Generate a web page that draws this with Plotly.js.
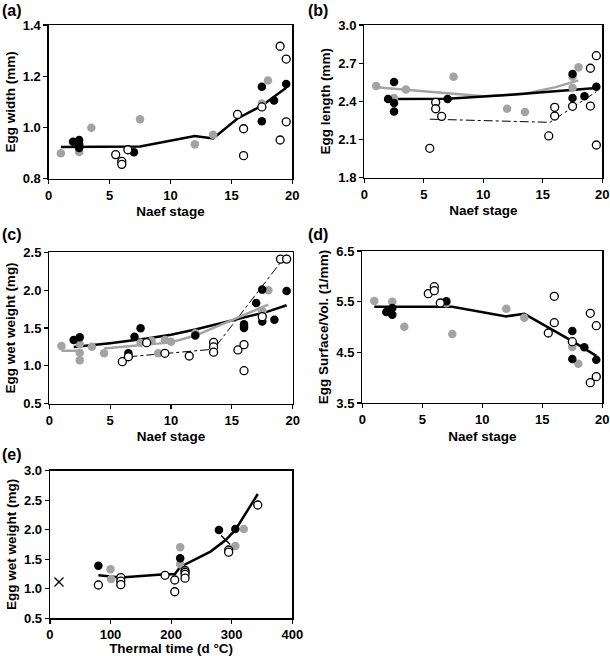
<!DOCTYPE html>
<html>
<head>
<meta charset="utf-8">
<script src="https://cdn.plot.ly/plotly-3.0.1.min.js"></script>
<style>html,body{margin:0;padding:0;background:#fff}#chart{width:610px;height:656px}</style>
</head>
<body>
<div id="chart"></div>
<script>
// ---------- Panel (a): Egg width ----------
var aBlackX = [2, 2.5, 2.5, 2.5, 7, 17.5, 17.5, 18.5, 19.5];
var aBlackY = [0.944, 0.951, 0.934, 0.92, 0.903, 1.159, 1.024, 1.105, 1.17];
var aGrayX = [1, 2.5, 3.5, 7.5, 12, 13.5, 17.5, 18];
var aGrayY = [0.899, 0.904, 0.999, 1.032, 0.934, 0.972, 1.094, 1.183];
var aOpenX = [5.5, 6, 6, 6.5, 15.5, 16, 16, 17.5, 19, 19, 19.5, 19.5];
var aOpenY = [0.894, 0.868, 0.856, 0.913, 1.051, 0.995, 0.890, 1.08, 1.317, 0.951, 1.267, 1.022];
var aFitX = [1, 7.5, 12, 13.5, 15.5, 17.5, 19.5];
var aFitY = [0.924, 0.926, 0.967, 0.957, 1.035, 1.085, 1.155];

// ---------- Panel (b): Egg length ----------
var bBlackX = [2, 2.5, 2.5, 2.5, 7, 17.5, 17.5, 18.5, 19.5];
var bBlackY = [2.418, 2.552, 2.387, 2.321, 2.418, 2.615, 2.426, 2.44, 2.515];
var bGrayX = [1, 2.5, 3.5, 7.5, 12, 13.5, 17.5, 17.5, 18];
var bGrayY = [2.52, 2.426, 2.494, 2.594, 2.342, 2.316, 2.594, 2.507, 2.667];
var bOpenX = [5.5, 6, 6, 6.5, 15.5, 16, 16, 17.5, 19, 19, 19.5, 19.5];
var bOpenY = [2.031, 2.392, 2.342, 2.282, 2.128, 2.353, 2.285, 2.361, 2.66, 2.363, 2.759, 2.057];
var bBlackFitX = [2, 7, 12, 17.5, 19.5];
var bBlackFitY = [2.418, 2.42, 2.45, 2.49, 2.505];
var bGrayFitX = [1, 3.5, 7.5, 10, 13.5, 16, 18];
var bGrayFitY = [2.51, 2.49, 2.455, 2.44, 2.46, 2.51, 2.565];
var bOpenFitX = [5.5, 15.6, 19.5];
var bOpenFitY = [2.26, 2.235, 2.476];

// ---------- Panel (c): Egg wet weight vs stage ----------
var cBlackX = [2, 2.5, 6.5, 7, 7.5, 12, 16, 16, 16, 17, 17.5, 17.5, 18.5, 19.5];
var cBlackY = [1.341, 1.377, 1.166, 1.385, 1.496, 1.40, 1.55, 1.52, 1.50, 1.83, 2.007, 1.587, 1.61, 1.99];
var cGrayX = [1, 2.5, 2.5, 2.5, 3.5, 4.5, 7.5, 8.4, 8.95, 9.5, 10, 12, 17.5, 18];
var cGrayY = [1.262, 1.289, 1.174, 1.073, 1.253, 1.166, 1.306, 1.33, 1.166, 1.34, 1.32, 1.43, 1.72, 2.0];
var cOpenX = [6, 6.5, 8, 9.5, 11.5, 13.5, 13.5, 13.5, 15.5, 16, 16, 17.5, 19, 19.5];
var cOpenY = [1.055, 1.12, 1.306, 1.166, 1.13, 1.31, 1.25, 1.18, 1.21, 1.28, 0.936, 1.65, 2.41, 2.41];
var cBlackFitX = [2, 5, 8, 10, 12, 14, 16, 18, 19.5];
var cBlackFitY = [1.25, 1.30, 1.36, 1.41, 1.48, 1.56, 1.64, 1.72, 1.80];
var cGrayFitX = [1, 2.5, null, 4.5, 10, 12, 15, 18];
var cGrayFitY = [1.20, 1.20, null, 1.23, 1.31, 1.40, 1.60, 1.81];
var cOpenFitX = [6.5, 13.5, 19.5];
var cOpenFitY = [1.12, 1.22, 2.47];

// ---------- Panel (d): Surface / volume ----------
var dBlackX = [2, 2.5, 2.5, 7, 17.5, 17.5, 18.5, 19.5];
var dBlackY = [5.296, 5.375, 5.243, 5.507, 4.921, 4.369, 4.599, 4.355];
var dGrayX = [1, 2.5, 3.5, 7, 7.5, 12, 13.5, 17.5, 18];
var dGrayY = [5.513, 5.5, 5.007, 5.47, 4.86, 5.36, 5.184, 4.606, 4.276];
var dOpenX = [5.5, 6, 6, 6.5, 15.5, 16, 16, 17.5, 19, 19, 19.5, 19.5];
var dOpenY = [5.658, 5.796, 5.717, 5.474, 4.882, 5.606, 5.085, 4.71, 5.27, 3.901, 5.026, 4.02];
var dFitX = [1, 7.5, 12, 13.5, 17.5, 19.5];
var dFitY = [5.40, 5.40, 5.21, 5.26, 4.72, 4.43];

// ---------- Panel (e): Egg wet weight vs thermal time ----------
var eBlackX = [80, 215, 279, 306];
var eBlackY = [1.392, 1.516, 1.996, 2.013];
var eGrayX = [100, 101, 215, 215, 306, 320];
var eGrayY = [1.33, 1.166, 1.702, 1.414, 1.725, 2.013];
var eOpenX = [80, 117, 117, 117, 190, 206, 206, 223, 223, 223, 223, 295, 295, 343];
var eOpenY = [1.064, 1.19, 1.13, 1.07, 1.228, 1.149, 0.95, 1.31, 1.28, 1.245, 1.18, 1.657, 1.62, 2.419];
var eCrossX = [15, 290];
var eCrossY = [1.115, 1.826];
var eFitX = [80, 117, 190, 206, 215, 265, 290, 306, 343];
var eFitY = [1.228, 1.19, 1.245, 1.245, 1.37, 1.63, 1.826, 1.996, 2.605];

var GRAY = '#a3a3a3';
var FONT = 'Liberation Sans, Arial, sans-serif';

function line(x, y, xa, ya, color, width, dash) {
  return {x: x, y: y, xaxis: xa, yaxis: ya, type: 'scatter', mode: 'lines',
          line: {color: color, width: width, dash: dash || 'solid'}, connectgaps: false,
          hoverinfo: 'skip', showlegend: false};
}
function pts(x, y, xa, ya, kind) {
  var m;
  if (kind === 'black') m = {color: '#000', size: 8.5, line: {width: 0}};
  else if (kind === 'gray') m = {color: GRAY, size: 8.5, line: {width: 0}};
  else if (kind === 'open') m = {color: '#fff', size: 8, line: {color: '#000', width: 1.3}};
  else m = {color: '#000', size: 9, symbol: 'x-thin', line: {color: '#000', width: 1.3}};
  return {x: x, y: y, xaxis: xa, yaxis: ya, type: 'scatter', mode: 'markers',
          marker: m, cliponaxis: false, showlegend: false};
}

var traces = [
  line(aFitX, aFitY, 'x', 'y', '#000', 2.5),
  pts(aGrayX, aGrayY, 'x', 'y', 'gray'),
  pts(aBlackX, aBlackY, 'x', 'y', 'black'),
  pts(aOpenX, aOpenY, 'x', 'y', 'open'),

  line(bOpenFitX, bOpenFitY, 'x2', 'y2', '#000', 1, 'dashdot'),
  line(bGrayFitX, bGrayFitY, 'x2', 'y2', GRAY, 2.5),
  line(bBlackFitX, bBlackFitY, 'x2', 'y2', '#000', 2.5),
  pts(bGrayX, bGrayY, 'x2', 'y2', 'gray'),
  pts(bBlackX, bBlackY, 'x2', 'y2', 'black'),
  pts(bOpenX, bOpenY, 'x2', 'y2', 'open'),

  line(cOpenFitX, cOpenFitY, 'x3', 'y3', '#000', 1, 'dashdot'),
  line(cBlackFitX, cBlackFitY, 'x3', 'y3', '#000', 2.5),
  line(cGrayFitX, cGrayFitY, 'x3', 'y3', GRAY, 2.5),
  pts(cGrayX, cGrayY, 'x3', 'y3', 'gray'),
  pts(cBlackX, cBlackY, 'x3', 'y3', 'black'),
  pts(cOpenX, cOpenY, 'x3', 'y3', 'open'),

  line(dFitX, dFitY, 'x4', 'y4', '#000', 2.5),
  pts(dGrayX, dGrayY, 'x4', 'y4', 'gray'),
  pts(dBlackX, dBlackY, 'x4', 'y4', 'black'),
  pts(dOpenX, dOpenY, 'x4', 'y4', 'open'),

  line(eFitX, eFitY, 'x5', 'y5', '#000', 2.5),
  pts(eGrayX, eGrayY, 'x5', 'y5', 'gray'),
  pts(eBlackX, eBlackY, 'x5', 'y5', 'black'),
  pts(eOpenX, eOpenY, 'x5', 'y5', 'open'),
  pts(eCrossX, eCrossY, 'x5', 'y5', 'cross')
];

var W = 610, H = 656;
function dx(a, b) { return [a / W, b / W]; }
function dy(top, bottom) { return [1 - bottom / H, 1 - top / H]; }

var tickFont = {family: FONT, size: 13, color: '#000', weight: 'bold'};
var titleFont = {family: FONT, size: 13.5, color: '#000', weight: 'bold'};

function xax(dom, anchor, range, dtick, title) {
  return {domain: dom, anchor: anchor, range: range, dtick: dtick, tick0: 0,
          showgrid: false, zeroline: false, showline: true, mirror: true,
          linecolor: '#000', linewidth: 1.3, ticks: 'outside', ticklen: 4, tickwidth: 1.2,
          tickcolor: '#000', tickfont: tickFont,
          title: {text: title, font: titleFont, standoff: 5}};
}
function yax(dom, anchor, range, dtick, title, fmt) {
  return {domain: dom, anchor: anchor, range: range, dtick: dtick, tick0: range[0],
          tickformat: fmt || '.1f',
          showgrid: false, zeroline: false, showline: true, mirror: true,
          linecolor: '#000', linewidth: 1.3, ticks: 'outside', ticklen: 4, tickwidth: 1.2,
          tickcolor: '#000', tickfont: tickFont,
          title: {text: title, font: titleFont, standoff: 4}};
}

var layout = {
  width: W, height: H,
  margin: {l: 0, r: 0, t: 0, b: 0},
  paper_bgcolor: '#fff', plot_bgcolor: '#fff',
  showlegend: false,
  font: {family: FONT, color: '#000'},
  xaxis:  xax(dx(48.7, 292.3), 'y',  [0, 20], 5, 'Naef stage'),
  yaxis:  yax(dy(25, 178.7),   'x',  [0.8, 1.4], 0.2, 'Egg width (mm)'),
  xaxis2: xax(dx(364.3, 602.3), 'y2', [0, 20], 5, 'Naef stage'),
  yaxis2: yax(dy(25, 177.7),    'x2', [1.8, 3.0], 0.3, 'Egg length (mm)'),
  xaxis3: xax(dx(49.3, 292.7), 'y3', [0, 20], 5, 'Naef stage'),
  yaxis3: yax(dy(252.3, 403.7), 'x3', [0.5, 2.5], 0.5, 'Egg wet weight (mg)'),
  xaxis4: xax(dx(362.3, 602.3), 'y4', [0, 20], 5, 'Naef stage'),
  yaxis4: yax(dy(251, 403),     'x4', [3.5, 6.5], 1, 'Egg Surface/Vol. (1/mm)'),
  xaxis5: xax(dx(49.9, 292.3), 'y5', [0, 400], 100, 'Thermal time (d °C)'),
  yaxis5: yax(dy(470.7, 618.3), 'x5', [0.5, 3.0], 0.5, 'Egg wet weight (mg)'),
  annotations: [
    {text: '(a)', x: 0 / W, y: 1 - 0 / H},
    {text: '(b)', x: 306 / W, y: 1 - 0 / H},
    {text: '(c)', x: 0 / W, y: 1 - 224 / H},
    {text: '(d)', x: 306 / W, y: 1 - 224 / H},
    {text: '(e)', x: 0 / W, y: 1 - 444 / H}
  ].map(function (a) {
    return {text: a.text, x: a.x, y: a.y, xref: 'paper', yref: 'paper',
            xanchor: 'left', yanchor: 'top', showarrow: false,
            font: {family: FONT, size: 16, color: '#000', weight: 'bold'}};
  })
};

Plotly.newPlot('chart', traces, layout, {staticPlot: true, displayModeBar: false});
</script>
</body>
</html>
